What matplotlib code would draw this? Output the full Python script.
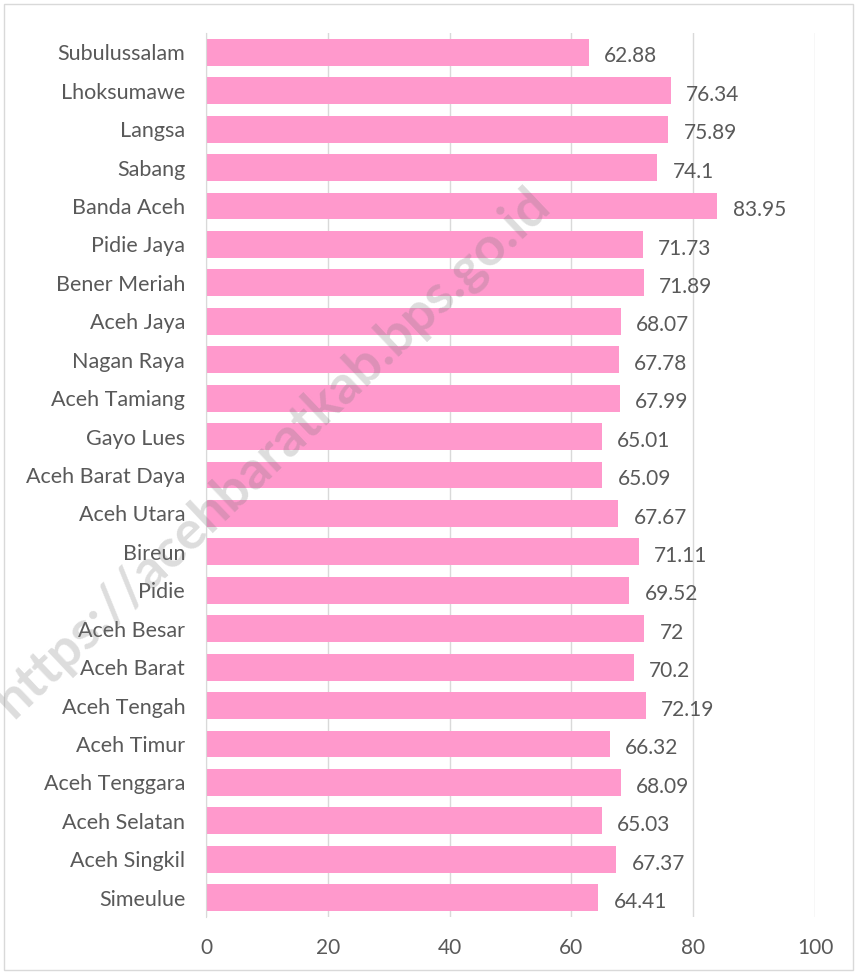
import matplotlib.pyplot as plt

regions = ["Subulussalam", "Lhoksumawe", "Langsa", "Sabang", "Banda Aceh",
           "Pidie Jaya", "Bener Meriah", "Aceh Jaya", "Nagan Raya", "Aceh Tamiang",
           "Gayo Lues", "Aceh Barat Daya", "Aceh Utara", "Bireun", "Pidie",
           "Aceh Besar", "Aceh Barat", "Aceh Tengah", "Aceh Timur", "Aceh Tenggara",
           "Aceh Selatan", "Aceh Singkil", "Simeulue"]
values = [62.88, 76.34, 75.89, 74.1, 83.95,
          71.73, 71.89, 68.07, 67.78, 67.99,
          65.01, 65.09, 67.67, 71.11, 69.52,
          72, 70.2, 72.19, 66.32, 68.09,
          65.03, 67.37, 64.41]
value_labels = ["62.88", "76.34", "75.89", "74.1", "83.95",
                "71.73", "71.89", "68.07", "67.78", "67.99",
                "65.01", "65.09", "67.67", "71.11", "69.52",
                "72", "70.2", "72.19", "66.32", "68.09",
                "65.03", "67.37", "64.41"]
xticks = [0, 20, 40, 60, 80, 100]

plt.rcParams['font.family'] = ['Lato', 'DejaVu Sans']
txt = '#595959'
fs = 15.5

fig = plt.figure(figsize=(8.57, 9.74), dpi=100)
ax = fig.add_axes([206 / 857, 1 - 917 / 974, (815 - 206) / 857, (917 - 33) / 974])

ypos = list(range(len(regions)))
ax.barh(ypos, values, height=0.7, color='#FF99CC', zorder=2)
for y, v, lab in zip(ypos, values, value_labels):
    ax.annotate(lab, (v, y), xytext=(11, -3), textcoords='offset points',
                va='center', ha='left', fontsize=15, color=txt)

ax.set_ylim(len(regions) - 0.5, -0.5)
ax.set_yticks(ypos)
ax.set_yticklabels(regions, fontsize=fs, color=txt)
ax.set_xlim(0, 100)
ax.set_xticks(xticks)
ax.set_xticklabels([str(t) for t in xticks], fontsize=15, color=txt)
ax.tick_params(axis='x', length=0, pad=15)
ax.tick_params(axis='y', length=0, pad=15)
ax.xaxis.grid(True, color='#d9d9d9', linewidth=1, zorder=0)
for s in ['top', 'right', 'bottom']:
    ax.spines[s].set_visible(False)
ax.spines['left'].set_color('#d9d9d9')

# watermark
fig.text(0.318, 0.536, "https://acehbaratkab.bps.go.id", fontsize=39, fontweight='bold',
         color='#777777', alpha=0.25, rotation=43.5, ha='center', va='center',
         rotation_mode='anchor', zorder=5)

# outer frame
fig.patches.append(plt.Rectangle((4 / 857, 4 / 974), 1 - 8 / 857, 1 - 8 / 974,
                                 transform=fig.transFigure, fill=False,
                                 edgecolor='#d9d9d9', linewidth=1))

fig.savefig('out.png', dpi=100)
